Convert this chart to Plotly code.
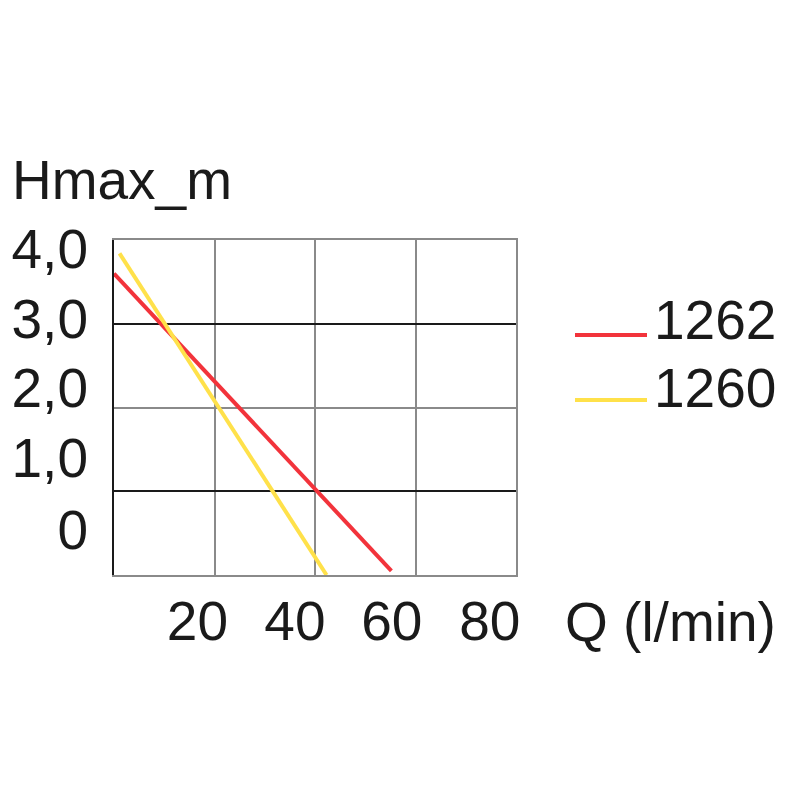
import plotly.graph_objects as go

# ---- data ----
q_1262 = [0.0, 55.2]
h_1262 = [3.60, 0.05]
q_1260 = [1.1, 42.3]
h_1260 = [3.84, 0.0]
series_names = ["1262", "1260"]
series_colors = ["#f2333b", "#ffe14a"]

x_grid = [20, 40, 60]
y_grid_dark = [1, 3]
y_grid_light = [2]
x_tick_pos = [16.6, 36.0, 55.3, 74.8]
x_tick_text = ["20", "40", "60", "80"]
y_tick_pos = [3.89, 3.06, 2.23, 1.40, 0.54]
y_tick_text = ["4,0", "3,0", "2,0", "1,0", "0"]
y_title = "Hmax_m"
x_title = "Q (l/min)"

FONT = "Liberation Sans, Arial, Helvetica, sans-serif"
TXT = "#1a1a1a"
GRAY = "#8a8a8a"
DARK = "#1a1a1a"
FS = 55

fig = go.Figure()
fig.add_trace(go.Scatter(x=q_1262, y=h_1262, mode="lines", name=series_names[0],
                         line=dict(color=series_colors[0], width=4), showlegend=False))
fig.add_trace(go.Scatter(x=q_1260, y=h_1260, mode="lines", name=series_names[1],
                         line=dict(color=series_colors[1], width=4), showlegend=False))
# empty helper traces so the overlay axes are drawn
fig.add_trace(go.Scatter(x=[None], y=[None], xaxis="x2", yaxis="y2",
                         showlegend=False, hoverinfo="skip"))
fig.add_trace(go.Scatter(x=[None], y=[None], xaxis="x", yaxis="y3",
                         showlegend=False, hoverinfo="skip"))

fig.update_layout(
    width=800, height=800,
    margin=dict(l=106, r=292, t=232, b=233, autoexpand=False),
    paper_bgcolor="white", plot_bgcolor="white",
    font=dict(family=FONT, color=TXT, size=FS),
    title=dict(text=y_title, x=4 / 800, xanchor="left", xref="container",
               y=1 - 172 / 800, yanchor="middle", yref="container",
               font=dict(family=FONT, size=FS, color=TXT)),
    xaxis=dict(range=[0, 80], tickvals=x_grid, showticklabels=False, ticks="",
               showgrid=True, gridcolor=GRAY, gridwidth=2,
               showline=True, mirror=True, linecolor=GRAY, linewidth=2,
               zeroline=False, fixedrange=True, automargin=False),
    xaxis2=dict(range=[0, 80], overlaying="x", side="bottom", tickvals=x_tick_pos,
                ticktext=x_tick_text, ticks="", showgrid=False, showline=False,
                zeroline=False, ticklabelstandoff=9, automargin=False,
                tickfont=dict(family=FONT, size=FS, color=TXT)),
    yaxis=dict(range=[0, 4], tickvals=y_grid_dark, showticklabels=False, ticks="",
               showgrid=True, gridcolor=DARK, gridwidth=2,
               showline=True, mirror=True, linecolor=GRAY, linewidth=2,
               zeroline=False, fixedrange=True, automargin=False),
    yaxis3=dict(range=[0, 4], overlaying="y", tickvals=y_grid_light, showticklabels=False,
                ticks="", showgrid=True, gridcolor=GRAY, gridwidth=2,
                showline=False, zeroline=False, automargin=False),
    yaxis2=dict(range=[0, 4], overlaying="y", side="left", tickvals=y_tick_pos,
                ticktext=y_tick_text, ticks="", showgrid=False,
                showline=True, linecolor=DARK, linewidth=2, zeroline=False,
                ticklabelstandoff=13, automargin=False,
                tickfont=dict(family=FONT, size=FS, color=TXT)),
)

# axis title for Q
fig.add_annotation(text=x_title, xref="paper", yref="paper",
                   x=(563 - 114) / 402, y=(575 - 622) / 335,
                   xanchor="left", yanchor="middle", showarrow=False,
                   font=dict(family=FONT, size=FS, color=TXT))

# custom legend (long key lines as in the reference)
legend_line_y = [(575 - 335) / 335, (575 - 400) / 335]
legend_text_y = [(575 - 320) / 335, (575 - 388) / 335]
for name, color, ly, ty in zip(series_names, series_colors, legend_line_y, legend_text_y):
    fig.add_shape(type="line", xref="paper", yref="paper",
                  x0=(575 - 114) / 402, x1=(647 - 114) / 402, y0=ly, y1=ly,
                  line=dict(color=color, width=4))
    fig.add_annotation(text=name, xref="paper", yref="paper",
                       x=(652 - 114) / 402, y=ty, xanchor="left", yanchor="middle",
                       showarrow=False, font=dict(family=FONT, size=FS, color=TXT))

fig.write_html("out.html")
